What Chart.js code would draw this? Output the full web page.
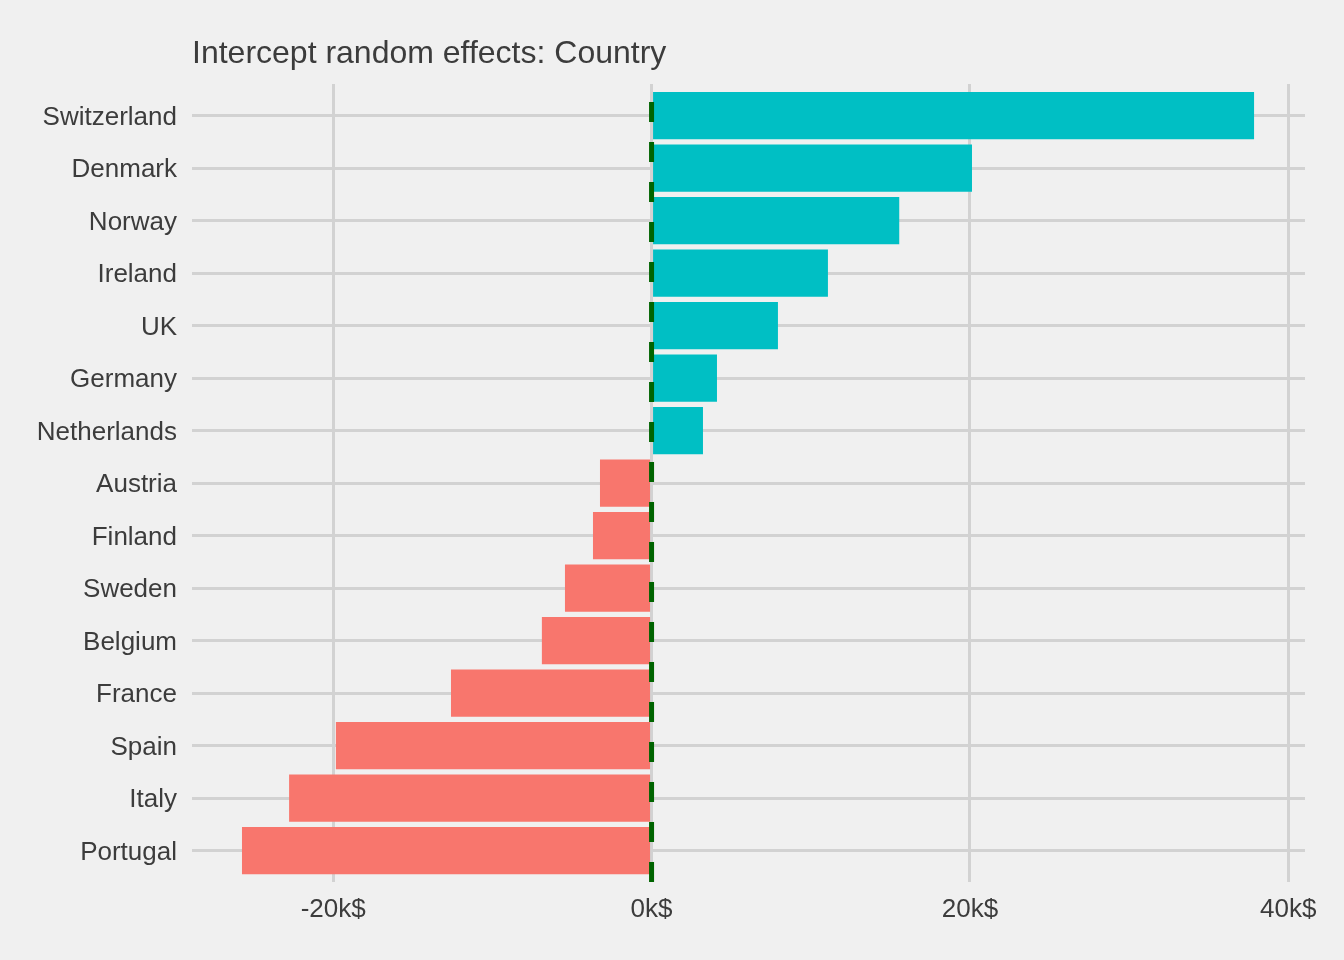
<!DOCTYPE html>
<html>
<head>
<meta charset="utf-8">
<title>Intercept random effects: Country</title>
<script src="https://cdn.jsdelivr.net/npm/chart.js@4.4.1/dist/chart.umd.min.js"></script>
<style>
  html, body { margin: 0; padding: 0; background: #F0F0F0; }
  #wrap { width: 1344px; height: 960px; }
</style>
</head>
<body>
<div id="wrap"><canvas id="myChart" width="1344" height="960"></canvas></div>
<script>
// data (dollars)
const countries = ['Switzerland', 'Denmark', 'Norway', 'Ireland', 'UK', 'Germany', 'Netherlands',
    'Austria', 'Finland', 'Sweden', 'Belgium', 'France', 'Spain', 'Italy', 'Portugal'];
const effects = [37850, 20130, 15560, 11080, 7940, 4110, 3230,
    -3240, -3680, -5440, -6890, -12600, -19830, -22770, -25730];
const xTickValues = [-20000, 0, 20000, 40000];
const xTickLabels = ['-20k$', '0k$', '20k$', '40k$'];
const refLine = 0;

const posColor = '#00BFC4';
const negColor = '#F8766D';
const textColor = '#3C3C3C';
const gridColor = '#D2D2D2';
const fontFamily = '"Liberation Sans", Arial, sans-serif';

// title drawn above the panel, aligned with the panel's left edge
const titlePlugin = {
    id: 'panelTitle',
    afterDraw(chart) {
        const c = chart.ctx;
        c.save();
        c.fillStyle = textColor;
        c.font = '32px ' + fontFamily;
        c.textAlign = 'left';
        c.textBaseline = 'alphabetic';
        c.fillText('Intercept random effects: Country', chart.chartArea.left, 63);
        c.restore();
    }
};

// dashed dark green reference line at zero
const zeroLine = {
    id: 'zeroLine',
    afterDatasetsDraw(chart) {
        const x = chart.scales.x.getPixelForValue(refLine);
        const area = chart.chartArea;
        const c = chart.ctx;
        c.save();
        c.strokeStyle = '#006400';
        c.lineWidth = 5;
        c.lineCap = 'butt';
        c.setLineDash([20, 20]);
        c.beginPath();
        c.moveTo(x, area.bottom);
        c.lineTo(x, area.top);
        c.stroke();
        c.restore();
    }
};

const ctx = document.getElementById('myChart');

const myChart = new Chart(ctx, {
    type: 'bar',
    data: {
        datasets: [{
            label: 'Intercept',
            data: effects.map((v, i) => ({ x: v, y: i })),
            backgroundColor: effects.map(v => v >= 0 ? posColor : negColor),
            borderWidth: 0,
            barPercentage: 0.9,
            categoryPercentage: 1.0
        }]
    },
    options: {
        indexAxis: 'y',
        responsive: false,
        animation: false,
        layout: { padding: { top: 84, right: 39, bottom: 0, left: 0 } },
        plugins: {
            legend: { display: false },
            tooltip: { enabled: false },
            title: { display: false }
        },
        scales: {
            x: {
                type: 'linear',
                min: -28870,
                max: 41050,
                afterBuildTicks: s => { s.ticks = xTickValues.map(v => ({ value: v })); },
                afterFit: s => { s.height = 78; },
                ticks: {
                    padding: 12,
                    color: textColor,
                    font: { family: fontFamily, size: 26 },
                    callback: (v) => xTickLabels[xTickValues.indexOf(v)]
                },
                grid: { color: gridColor, lineWidth: 3, drawTicks: false },
                border: { display: false }
            },
            y: {
                type: 'linear',
                reverse: true,
                offset: false,
                min: -0.6,
                max: countries.length - 0.4,
                afterBuildTicks: s => { s.ticks = countries.map((c, i) => ({ value: i })); },
                afterFit: s => { s.width = 192; },
                ticks: {
                    padding: 15,
                    labelOffset: 2,
                    color: textColor,
                    font: { family: fontFamily, size: 26 },
                    autoSkip: false,
                    callback: (v) => countries[v]
                },
                grid: { color: gridColor, lineWidth: 3, drawTicks: false, offset: false },
                border: { display: false }
            }
        }
    },
    plugins: [titlePlugin, zeroLine]
});
</script>
</body>
</html>
